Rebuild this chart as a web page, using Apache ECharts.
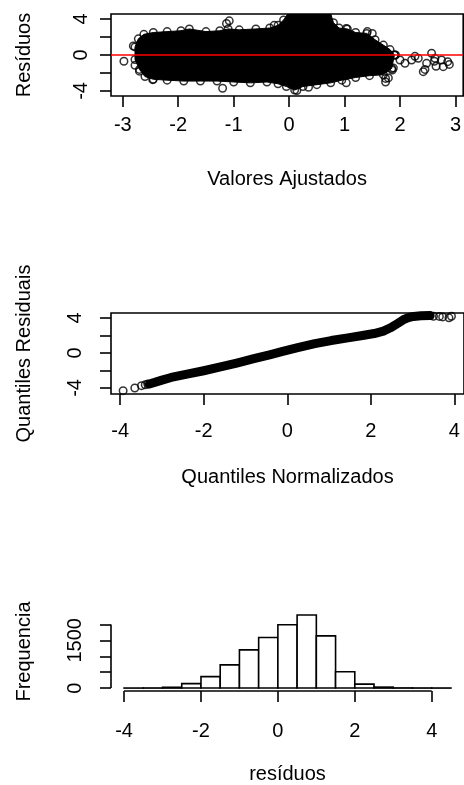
<!DOCTYPE html>
<html>
<head>
<meta charset="utf-8">
<script src="https://cdn.jsdelivr.net/npm/echarts@6/dist/echarts.min.js"></script>
<style>
  html, body { margin: 0; padding: 0; background: #fff; }
  #chart { width: 464px; height: 785px; }
</style>
</head>
<body>
<div id="chart"></div>
<script>
// ---- Resíduos vs valores ajustados ----
const ajusteTicks = [-3, -2, -1, 0, 1, 2, 3];
const residuoTicks = [-4, -2, 0, 2, 4];
const residuoRotulos = [-4, 0, 4];
// contorno da nuvem densa de pontos (borda superior e inferior)
const nuvemSuperior = [
  [-2.78, 0.9], [-2.72, 1.8], [-2.62, 2.3], [-2.45, 2.5], [-2.2, 2.6], [-1.95, 2.7],
  [-1.8, 2.9], [-1.5, 2.6], [-1.25, 2.7], [-1.1, 2.9], [-0.9, 2.8], [-0.6, 2.9],
  [-0.35, 3.0], [-0.2, 3.3], [-0.1, 3.9], [-0.02, 4.6], [0.75, 4.6], [0.8, 3.6],
  [0.9, 3.0], [1.05, 2.9], [1.2, 2.5], [1.4, 2.4], [1.55, 1.7], [1.7, 1.1],
  [1.82, 0.6], [1.9, 0.0]
];
const nuvemInferior = [
  [-2.78, -0.5], [-2.7, -1.6], [-2.6, -2.4], [-2.45, -2.7], [-2.2, -2.8], [-1.9, -2.9],
  [-1.6, -2.9], [-1.3, -2.9], [-1.0, -3.0], [-0.7, -3.1], [-0.4, -3.0], [-0.2, -3.2],
  [-0.05, -3.5], [0.1, -3.9], [0.25, -3.5], [0.5, -3.3], [0.75, -3.1], [0.95, -2.8],
  [1.2, -2.5], [1.45, -2.3], [1.7, -2.2], [1.85, -1.5], [1.9, 0.0]
];
// pontos afastados da nuvem
const pontosIsolados = [
  [-2.81, 1.0], [-2.98, -0.7], [-2.78, -1.15], [-2.70, -1.8], [-2.46, -2.74],
  [-1.2, -3.7], [-1.13, 3.5], [-1.08, 3.8], [-0.27, 3.3], [0.14, -3.95], [0.35, -3.6],
  [1.03, 2.96], [1.41, 2.6], [1.5, 2.4], [1.74, -2.6], [1.74, -3.0], [1.03, -3.1],
  [1.92, 0.0], [2.0, -0.55], [2.09, -0.93], [1.86, -1.67], [1.88, -1.45], [1.79, -2.55],
  [2.21, -0.55], [2.27, -0.15], [2.33, -0.37], [2.42, -1.85], [2.48, -0.93],
  [2.45, -1.6], [2.57, 0.19], [2.63, -0.37], [2.62, -0.7], [2.65, -1.25],
  [2.75, -0.55], [2.78, -1.3], [2.86, -0.74], [2.89, -1.05]
];

// ---- Gráfico quantil-quantil ----
const qqTicksX = [-4, -2, 0, 2, 4];
const qqBanda = [
  [-3.3, -3.55], [-3.0, -3.1], [-2.78, -2.8], [-2.4, -2.42], [-2.0, -2.03], [-1.6, -1.6],
  [-1.21, -1.15], [-0.8, -0.65], [-0.4, -0.18], [-0.11, 0.18], [0.25, 0.6], [0.66, 1.06],
  [1.05, 1.42], [1.45, 1.73], [1.8, 2.0], [2.08, 2.22], [2.3, 2.5], [2.47, 2.88],
  [2.65, 3.4], [2.78, 3.8], [2.9, 4.05], [3.02, 4.18], [3.2, 4.25], [3.42, 4.28]
];
const qqCaudas = [
  [-3.93, -4.31], [-3.65, -4.0], [-3.49, -3.74], [-3.4, -3.64], [-3.34, -3.54],
  [3.5, 4.2], [3.64, 4.18], [3.72, 4.12], [3.87, 4.02], [3.93, 4.2]
];

// ---- Histograma dos resíduos ----
const histLimites = [-4, -3.5, -3, -2.5, -2, -1.5, -1, -0.5, 0, 0.5, 1, 1.5, 2, 2.5, 3, 3.5, 4, 4.5];
const histContagens = [1, 3, 25, 140, 360, 730, 1200, 1590, 1990, 2300, 1640, 515, 125, 30, 5, 3, 2];
const histTicksX = [-4, -2, 0, 2, 4];
const histTicksY = [0, 500, 1000, 1500, 2000];
const histRotulosY = [0, 1500];

const FONT = 'Liberation Sans, Arial, sans-serif';
const LW = 1.6;
const txt = { color: '#000', fontSize: 20, fontFamily: FONT };
const circulo = { color: 'rgba(0,0,0,0)', borderColor: '#000', borderWidth: 1.5 };
const RAIO = 7.5;

const lim = {
  x1: [-3.213, 3.14], y1: [-4.56, 4.56],
  x2: [-4.22, 4.23], y2: [-4.69, 4.57],
  x3: [-4.34, 4.84], y3: [-92, 2392]
};

function numero(v) { return String(v); }

function eixoX(gi, l, ticks, labels, name, margin) {
  return {
    gridIndex: gi, type: 'value', min: l[0], max: l[1],
    name: name, nameLocation: 'middle', nameGap: 73, nameTextStyle: txt,
    axisLine: { show: false, onZero: false },
    splitLine: { show: false },
    axisTick: { show: true, length: 11, customValues: ticks, lineStyle: { color: '#000', width: LW } },
    axisLabel: Object.assign({ margin: margin, customValues: labels, formatter: numero }, txt)
  };
}
function eixoY(gi, l, ticks, labels, name, margin) {
  return {
    gridIndex: gi, type: 'value', min: l[0], max: l[1],
    name: name, nameLocation: 'middle', nameGap: 77, nameRotate: 90, nameTextStyle: txt,
    axisLine: { show: false, onZero: false },
    splitLine: { show: false },
    axisTick: { show: true, length: 11, customValues: ticks, lineStyle: { color: '#000', width: LW } },
    axisLabel: Object.assign({ margin: margin, rotate: 90, customValues: labels, formatter: numero }, txt)
  };
}

const chart = echarts.init(document.getElementById('chart'), null, { renderer: 'canvas' });
chart.setOption({
  backgroundColor: '#fff',
  animation: false,
  grid: [
    { left: 111, top: 14, width: 358, height: 82, show: true, borderColor: '#000', borderWidth: LW, backgroundColor: 'transparent' },
    { left: 111, top: 313, width: 357, height: 81, show: true, borderColor: '#000', borderWidth: LW, backgroundColor: 'transparent' },
    { left: 111, top: 612, width: 356, height: 81, show: false }
  ],
  xAxis: [
    eixoX(0, lim.x1, ajusteTicks, ajusteTicks, 'Valores Ajustados', 19),
    eixoX(1, lim.x2, qqTicksX, qqTicksX, 'Quantiles Normalizados', 27),
    eixoX(2, lim.x3, histTicksX, histTicksX, 'resíduos', 30)
  ],
  yAxis: [
    eixoY(0, lim.y1, residuoTicks, residuoRotulos, 'Resíduos', 20),
    eixoY(1, lim.y2, residuoTicks, residuoRotulos, 'Quantiles Residuais', 26),
    eixoY(2, lim.y3, histTicksY, histRotulosY, 'Frequencia', 26)
  ],
  series: [
    // nuvem densa preenchida
    {
      type: 'custom', xAxisIndex: 0, yAxisIndex: 0, clip: true, silent: true, z: 1,
      data: [[0, 0]],
      renderItem: function (params, api) {
        const pts = nuvemSuperior.concat(nuvemInferior.slice().reverse()).map(function (p) { return api.coord(p); });
        return { type: 'polygon', shape: { points: pts }, style: { fill: '#000', stroke: '#000', lineWidth: 1 } };
      }
    },
    {
      type: 'scatter', xAxisIndex: 0, yAxisIndex: 0, silent: true, z: 2,
      data: nuvemSuperior.concat(nuvemInferior, pontosIsolados),
      symbol: 'circle', symbolSize: RAIO, itemStyle: circulo,
      markLine: {
        silent: true, symbol: 'none', label: { show: false },
        lineStyle: { color: '#ff0000', width: 1.6, type: 'solid' },
        data: [{ yAxis: 0 }]
      }
    },
    // faixa densa do gráfico QQ
    {
      type: 'line', xAxisIndex: 1, yAxisIndex: 1, silent: true, clip: true,
      data: qqBanda, symbol: 'none',
      lineStyle: { color: '#000', width: 9, cap: 'round', join: 'round' }
    },
    {
      type: 'scatter', xAxisIndex: 1, yAxisIndex: 1, silent: true, clip: true,
      data: qqCaudas, symbol: 'circle', symbolSize: RAIO, itemStyle: circulo
    },
    // barras do histograma
    {
      type: 'custom', xAxisIndex: 2, yAxisIndex: 2, silent: true,
      data: histContagens.map(function (c, i) { return [histLimites[i], histLimites[i + 1], c]; }),
      encode: { x: [0, 1], y: 2 },
      renderItem: function (params, api) {
        const p0 = api.coord([api.value(0), 0]);
        const p1 = api.coord([api.value(1), api.value(2)]);
        return {
          type: 'rect',
          shape: { x: p0[0], y: p1[1], width: p1[0] - p0[0], height: p0[1] - p1[1] },
          style: { fill: '#fff', stroke: '#000', lineWidth: LW }
        };
      }
    },
    // linhas dos eixos do histograma (entre o primeiro e o último tick)
    {
      type: 'line', xAxisIndex: 2, yAxisIndex: 2, silent: true, clip: false, symbol: 'none',
      data: [[histTicksX[0], lim.y3[0]], [histTicksX[histTicksX.length - 1], lim.y3[0]]],
      lineStyle: { color: '#000', width: LW }
    },
    {
      type: 'line', xAxisIndex: 2, yAxisIndex: 2, silent: true, clip: false, symbol: 'none',
      data: [[lim.x3[0], histTicksY[0]], [lim.x3[0], histTicksY[histTicksY.length - 1]]],
      lineStyle: { color: '#000', width: LW }
    }
  ]
});
</script>
</body>
</html>
